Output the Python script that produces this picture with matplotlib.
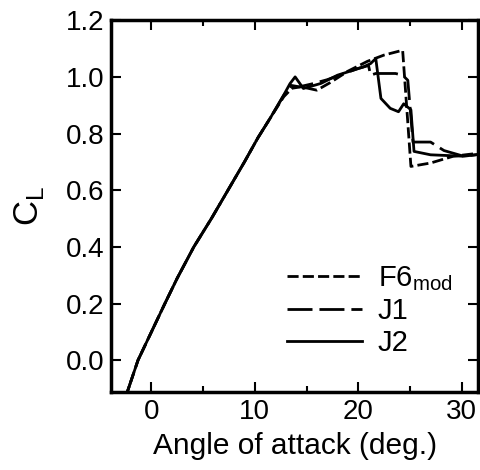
import matplotlib
matplotlib.use("Agg")
import matplotlib.pyplot as plt

plt.rcParams['font.family'] = ['Liberation Sans', 'DejaVu Sans']
plt.rcParams['mathtext.fontset'] = 'custom'
plt.rcParams['mathtext.rm'] = 'Liberation Sans'

# angle of attack (deg) and lift coefficient
f6_alpha = [-2.5, -1.3, 0, 1.3, 2.5, 4.1, 5.8, 7.4, 9.0, 10.3, 11.5, 12.8, 13.6,
            14.5, 16.0, 17.3, 19.0, 20.9, 22.5, 24.3, 25.1, 27.0, 29.2, 31.5, 32.5]
f6_cl = [-0.13, 0.0, 0.1, 0.2, 0.29, 0.4, 0.5, 0.6, 0.7, 0.785, 0.855, 0.93, 0.96,
         0.965, 0.953, 0.98, 1.02, 1.055, 1.077, 1.094, 0.684, 0.696, 0.72, 0.73, 0.735]

j1_alpha = [-2.5, -1.3, 0, 1.3, 2.5, 4.1, 5.8, 7.4, 9.0, 10.3, 11.5, 12.8, 13.5,
            14.3, 15.5, 17.0, 18.5, 20.0, 21.0, 21.2, 21.7, 23.6, 24.3, 24.8,
            25.3, 27.0, 28.3, 30.2, 32.5]
j1_cl = [-0.13, 0.0, 0.1, 0.2, 0.29, 0.4, 0.5, 0.6, 0.7, 0.785, 0.855, 0.935, 0.97,
         0.965, 0.975, 0.99, 1.01, 1.03, 1.04, 1.006, 1.012, 1.012, 1.006, 0.988,
         0.77, 0.77, 0.74, 0.72, 0.73]

j2_alpha = [-2.5, -1.3, 0, 1.3, 2.5, 4.1, 5.8, 7.4, 9.0, 10.3, 11.5, 12.8, 13.4,
            13.9, 14.7, 16.4, 18.0, 20.5, 21.2, 21.7, 22.2, 23.1, 23.9, 24.4,
            25.1, 25.4, 27.0, 30.2, 32.5]
j2_cl = [-0.13, 0.0, 0.1, 0.2, 0.29, 0.4, 0.5, 0.6, 0.7, 0.785, 0.855, 0.936, 0.976,
         1.0, 0.959, 0.977, 1.006, 1.035, 1.047, 1.065, 0.924, 0.889, 0.877, 0.905,
         0.884, 0.737, 0.725, 0.72, 0.73]

fig = plt.figure(figsize=(4.81, 4.70), dpi=100)
ax = fig.add_axes([0.231, 0.166, 0.763, 0.791])

ax.plot(f6_alpha, f6_cl, color='black', lw=2, ls=(0, (4, 1.5)), label='F6$_{\\rm mod}$')
ax.plot(j1_alpha, j1_cl, color='black', lw=2, ls=(0, (9, 2.5)), label='J1')
ax.plot(j2_alpha, j2_cl, color='black', lw=2, ls='-', label='J2')

ax.set_xlim(-3.9, 31.6)
ax.set_ylim(-0.112, 1.2)
ax.set_xticks([0, 10, 20, 30])
ax.set_xticks([5, 15, 25], minor=True)
ax.set_yticks([0.0, 0.2, 0.4, 0.6, 0.8, 1.0, 1.2])
ax.set_yticklabels(['0.0', '0.2', '0.4', '0.6', '0.8', '1.0', '1.2'])

ax.tick_params(which='both', direction='in', top=True, right=True,
               labelsize=20, width=1.5, colors='black')
ax.tick_params(which='major', length=7, pad=5)
ax.tick_params(which='minor', length=4)
for s in ax.spines.values():
    s.set_linewidth(2.5)

ax.set_xlabel('Angle of attack (deg.)', fontsize=21.5, labelpad=5)
ax.set_ylabel('C$_{\\rm L}$', fontsize=25, labelpad=14)

ax.legend(loc='upper left', bbox_to_anchor=(0.48, 0.345), frameon=False, fontsize=21,
          handlelength=2.55, handletextpad=0.55, labelspacing=0.15,
          borderpad=0, borderaxespad=0)

fig.savefig('out.png', dpi=100)
